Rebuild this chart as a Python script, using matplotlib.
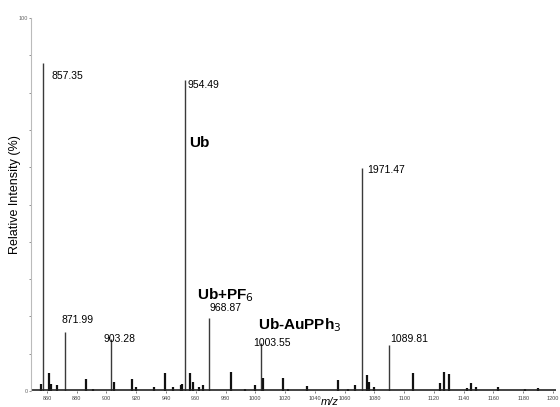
import matplotlib
matplotlib.use("Agg")
import matplotlib.pyplot as plt
import numpy as np

plt.rcParams["font.family"] = ["Liberation Sans", "DejaVu Sans"]

# peak centroids (m/z) and relative intensities (%)
peak_mz = [856.0, 857.35, 861.3, 863.0, 867.0, 871.99, 886.4, 891.0, 903.28,
           905.3, 917.0, 920.0, 932.0, 939.0, 945.0, 950.0, 951.0, 952.6,
           956.0, 957.8, 962.0, 965.0, 968.87, 983.8, 993.0, 999.8, 1003.55,
           1005.3, 1018.7, 1022.0, 1034.7, 1055.8, 1062.0, 1067.0, 1071.47,
           1074.7, 1076.7, 1079.5, 1089.81, 1105.8, 1124.0, 1126.7, 1130.0,
           1142.5, 1144.7, 1148.0, 1163.0, 1181.0, 1190.0]
peak_int = [2.0, 88.0, 4.8, 2.0, 1.5, 15.8, 3.2, 0.5, 14.0,
            2.4, 3.2, 1.0, 1.2, 4.8, 1.0, 1.5, 2.0, 83.4,
            4.8, 2.5, 1.0, 1.5, 19.6, 5.1, 0.5, 1.5, 12.9,
            3.5, 3.5, 0.5, 1.3, 3.0, 0.5, 1.5, 59.8,
            4.3, 2.5, 1.0, 12.3, 4.8, 2.1, 5.1, 4.5,
            0.8, 2.1, 1.0, 1.0, 0.6, 0.8]

# peak annotations: label text and position in pixels (left, vertical centre)
labels = ["857.35", "954.49", "1971.47", "871.99", "903.28", "968.87",
          "1003.55", "1089.81"]
label_px = [(51, 76), (188, 85), (367, 170), (61, 320), (103, 339),
            (210, 308), (253, 343), (390, 339)]
species = ["Ub", "Ub+PF$_6$", "Ub-AuPPh$_3$"]
species_px = [(189, 143), (197, 295), (258, 325)]

W, H = 560, 407
fig = plt.figure(figsize=(W / 100, H / 100), dpi=100)
ax = fig.add_axes([31 / W, 1 - 391 / H, 525 / W, 373 / H])

mz = np.array(peak_mz)
inten = np.array(peak_int)
big = inten > 10
# tall peaks: thin grey sticks; small peaks: heavier black spikes
ax.vlines(mz[big], 0, inten[big], color="#3a3a3a", linewidth=1.0)
ax.vlines(mz[~big], 0, inten[~big], color="#111111", linewidth=1.6)
ax.axhline(0.3, color="#222222", linewidth=1.2)

ax.set_xlim(849.3, 1202)
ax.set_ylim(0, 100)

ax.set_xticks(np.arange(860, 1201, 20))
ax.tick_params(axis="x", labelsize=4, length=1.5, width=0.5, colors="#444444", pad=2)
ax.set_yticks([0, 100])
ax.set_yticks(np.arange(10, 100, 10), minor=True)
ax.tick_params(axis="y", which="both", labelsize=4, length=1.5, width=0.5,
               colors="#666666", pad=1)

for s in ["top", "right", "bottom"]:
    ax.spines[s].set_visible(False)
ax.spines["left"].set_color("#bbbbbb")
ax.spines["left"].set_linewidth(0.8)

fig.text(15 / W, 1 - 195 / H, "Relative Intensity (%)", rotation=90,
         fontsize=9, ha="center", va="center")
fig.text(330 / W, 1 - 402 / H, "m/z", fontsize=8, style="italic",
         ha="center", va="center")

for txt, (x, y) in zip(labels, label_px):
    fig.text(x / W, 1 - y / H, txt, fontsize=7.5, ha="left", va="center")
for txt, (x, y) in zip(species, species_px):
    fig.text(x / W, 1 - y / H, txt, fontsize=11, fontweight="bold",
             ha="left", va="center")

fig.savefig("out.png", dpi=100)
